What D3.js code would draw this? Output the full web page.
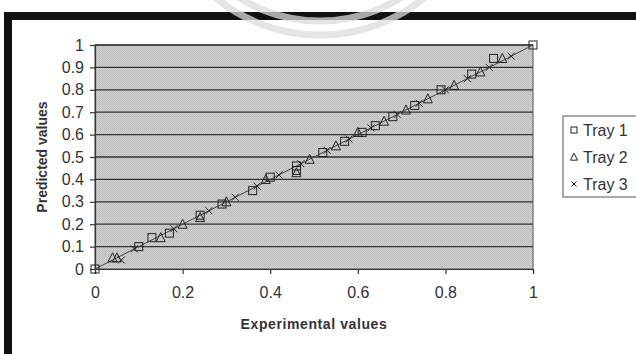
<!DOCTYPE html>
<html><head><meta charset="utf-8">
<script src="https://cdn.jsdelivr.net/npm/d3@7"></script>
<style>html,body{margin:0;padding:0;background:#fff;}svg{display:block;}</style>
</head><body>
<svg id="c" width="636" height="354"></svg>
<script>
const tray1X = [0, 0.10, 0.13, 0.17, 0.24, 0.29, 0.36, 0.40, 0.46, 0.46, 0.52, 0.57, 0.61, 0.64, 0.68, 0.73, 0.79, 0.86, 0.91, 1.0];
const tray1Y = [0, 0.10, 0.14, 0.16, 0.24, 0.29, 0.35, 0.41, 0.44, 0.46, 0.52, 0.57, 0.61, 0.64, 0.68, 0.73, 0.80, 0.87, 0.94, 1.0];
const tray2X = [0.04, 0.05, 0.15, 0.20, 0.24, 0.30, 0.39, 0.46, 0.49, 0.55, 0.60, 0.66, 0.71, 0.76, 0.82, 0.88, 0.93];
const tray2Y = [0.05, 0.05, 0.14, 0.20, 0.23, 0.30, 0.40, 0.43, 0.49, 0.55, 0.61, 0.66, 0.71, 0.76, 0.82, 0.88, 0.94];
const tray3X = [0.06, 0.09, 0.18, 0.26, 0.32, 0.37, 0.42, 0.47, 0.53, 0.58, 0.63, 0.69, 0.74, 0.80, 0.85, 0.90, 0.95];
const tray3Y = [0.04, 0.09, 0.18, 0.26, 0.32, 0.37, 0.42, 0.47, 0.53, 0.58, 0.63, 0.69, 0.74, 0.80, 0.85, 0.90, 0.95];
const fitLine = [0, 1];
const xTicks = [0, 0.2, 0.4, 0.6, 0.8, 1];
const yTicks = [0, 0.1, 0.2, 0.3, 0.4, 0.5, 0.6, 0.7, 0.8, 0.9, 1];
const seriesNames = ["Tray 1", "Tray 2", "Tray 3"];
const xTitle = "Experimental values";
const yTitle = "Predicted values";

const svg = d3.select("#c");
const font = "'Liberation Sans', Arial, sans-serif";
const narrow = "'Liberation Sans Narrow', 'Arial Narrow', 'Liberation Sans', sans-serif";
const L = 95, R = 533, T = 45, B = 269;
const x = d3.scaleLinear().domain([0, 1]).range([L, R]);
const y = d3.scaleLinear().domain([0, 1]).range([B, T]);

// frame
svg.append("rect").attr("x", 0).attr("y", 0).attr("width", 636).attr("height", 354).attr("fill", "#fff");
svg.append("rect").attr("x", 4).attr("y", 12).attr("width", 632).attr("height", 8).attr("fill", "#111");
svg.append("rect").attr("x", 4).attr("y", 12).attr("width", 8).attr("height", 342).attr("fill", "#111");

// dither pattern for plot area
const defs = svg.append("defs");
const pat = defs.append("pattern").attr("id", "dith").attr("width", 2).attr("height", 2).attr("patternUnits", "userSpaceOnUse");
pat.append("rect").attr("width", 2).attr("height", 2).attr("fill", "#d0d0d0");
pat.append("rect").attr("width", 1).attr("height", 1).attr("fill", "#bcbcbc");
pat.append("rect").attr("x", 1).attr("y", 1).attr("width", 1).attr("height", 1).attr("fill", "#c0c0c0");

svg.append("rect").attr("x", L).attr("y", T).attr("width", R - L).attr("height", B - T)
  .attr("fill", "url(#dith)").attr("stroke", "#555").attr("stroke-width", 1);

// gridlines
svg.append("g").selectAll("line").data(yTicks.filter(d => d > 0)).join("line")
  .attr("x1", L).attr("x2", R).attr("y1", d => y(d)).attr("y2", d => y(d))
  .attr("stroke", "#333").attr("stroke-width", 1.3);

// axes
const xAxis = svg.append("g").attr("transform", `translate(0,${B})`)
  .call(d3.axisBottom(x).tickValues(xTicks).tickFormat(d => d3.format("")(d)).tickSizeOuter(0).tickSize(5).tickPadding(13));
const yAxis = svg.append("g").attr("transform", `translate(${L},0)`)
  .call(d3.axisLeft(y).tickValues(yTicks).tickFormat(d => d3.format("")(d)).tickSizeOuter(0).tickSize(5).tickPadding(6));
[xAxis, yAxis].forEach(a => {
  a.select(".domain").attr("stroke", "#333").attr("stroke-width", 1.2);
  a.selectAll(".tick line").attr("stroke", "#333").attr("stroke-width", 1.2);
  a.selectAll("text").attr("font-family", narrow).attr("font-size", 16).attr("fill", "#333");
});

// fit line
svg.append("line").attr("x1", x(fitLine[0])).attr("y1", y(fitLine[0]))
  .attr("x2", x(fitLine[1])).attr("y2", y(fitLine[1]))
  .attr("stroke", "#444").attr("stroke-width", 1);

function sq(g, cx, cy, s) {
  g.append("rect").attr("x", cx - s / 2).attr("y", cy - s / 2).attr("width", s).attr("height", s)
    .attr("fill", "none").attr("stroke", "#222").attr("stroke-width", 1);
}
function tri(g, cx, cy, s) {
  g.append("path").attr("d", `M${cx},${cy - s * 0.55}L${cx + s / 2},${cy + s * 0.45}L${cx - s / 2},${cy + s * 0.45}Z`)
    .attr("fill", "none").attr("stroke", "#222").attr("stroke-width", 1);
}
function cross(g, cx, cy, s) {
  g.append("path").attr("d", `M${cx - s / 2},${cy - s / 2}L${cx + s / 2},${cy + s / 2}M${cx - s / 2},${cy + s / 2}L${cx + s / 2},${cy - s / 2}`)
    .attr("stroke", "#222").attr("stroke-width", 1);
}

const gm = svg.append("g");
tray1X.forEach((v, i) => sq(gm, x(v), y(tray1Y[i]), 8));
tray2X.forEach((v, i) => tri(gm, x(v), y(tray2Y[i]), 9));
tray3X.forEach((v, i) => cross(gm, x(v), y(tray3Y[i]), 7));

// axis titles
svg.append("text").attr("x", (L + R) / 2).attr("y", 329).attr("text-anchor", "middle")
  .attr("font-family", font).attr("font-size", 14).attr("font-weight", "bold").attr("letter-spacing", 0.6)
  .attr("fill", "#333").text(xTitle);
svg.append("text").attr("transform", `translate(47,${(T + B) / 2}) rotate(-90)`).attr("text-anchor", "middle")
  .attr("font-family", font).attr("font-size", 14).attr("font-weight", "bold").attr("fill", "#333").text(yTitle);

// legend
const lg = svg.append("g");
lg.append("rect").attr("x", 563).attr("y", 116).attr("width", 80).attr("height", 81)
  .attr("fill", "#fff").attr("stroke", "#555").attr("stroke-width", 1);
const legY = [130, 157, 184];
seriesNames.forEach((n, i) => {
  const cy = legY[i];
  if (i === 0) sq(lg, 574, cy, 6);
  if (i === 1) tri(lg, 574, cy, 7);
  if (i === 2) cross(lg, 574, cy, 5);
  lg.append("text").attr("x", 583).attr("y", cy + 6).attr("font-family", font).attr("font-size", 16)
    .attr("fill", "#333").text(n);
});

// watermark arcs
const wm = svg.append("g").attr("fill", "none").attr("stroke", "#dcdcdc").attr("stroke-opacity", 0.75).attr("stroke-width", 7);
[165, 151].forEach(r => wm.append("circle").attr("cx", 320).attr("cy", -130).attr("r", r));
</script>
</body></html>
